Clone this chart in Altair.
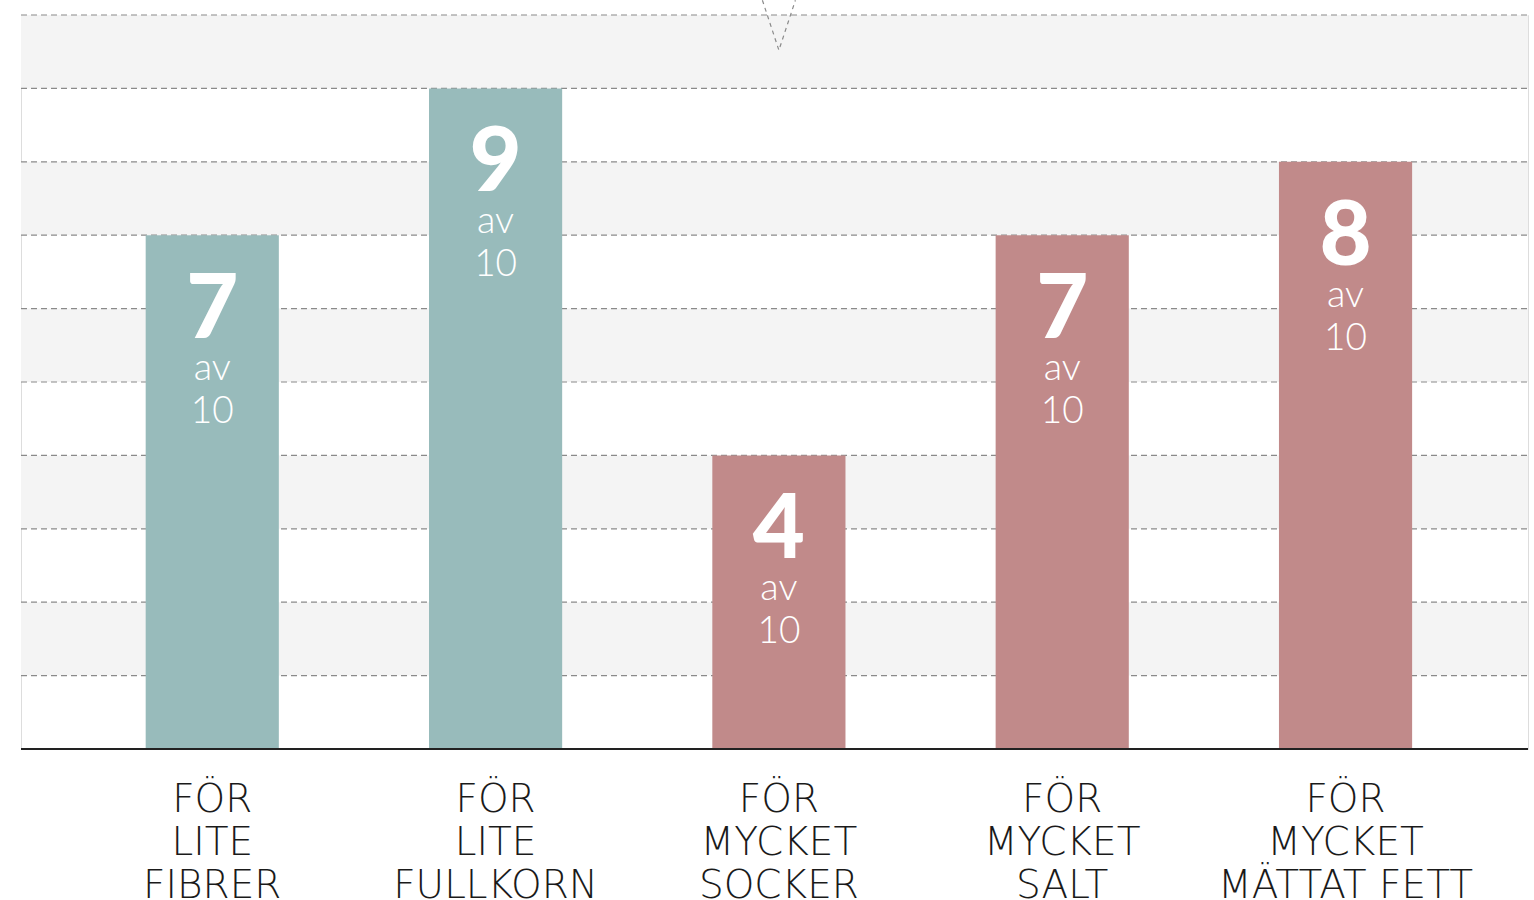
import altair as alt
import pandas as pd

# ---- data ----
categories = ["FÖR LITE FIBRER", "FÖR LITE FULLKORN", "FÖR MYCKET SOCKER",
              "FÖR MYCKET SALT", "FÖR MYCKET MÄTTAT FETT"]
values = [7, 9, 4, 7, 8]
totals = [10, 10, 10, 10, 10]
groups = ["för lite", "för lite", "för mycket", "för mycket", "för mycket"]
group_names = ["för lite", "för mycket"]
group_colors = ["#98bbbb", "#c18a8a"]
band_starts = [1, 3, 5, 7, 9]
grid_values = [1, 2, 3, 4, 5, 6, 7, 8, 9, 10]
marker_category = ["FÖR MYCKET SOCKER"]
marker_value = [9.52]

W, H = 1507, 734

df = pd.DataFrame({"cat": categories, "value": values, "total": totals, "group": groups})
df_bands = pd.DataFrame({"start": band_starts, "end": [b + 1 for b in band_starts]})
df_grid = pd.DataFrame({"g": grid_values})
df_marker = pd.DataFrame({"cat": marker_category, "value": marker_value})

xscale = alt.Scale(domain=categories, range=[49.6, 1466.2], paddingInner=0.53, paddingOuter=0.265)
yscale = alt.Scale(domain=[0, 10], nice=False)

label_expr = ("[split(datum.label, ' ')[0], split(datum.label, ' ')[1], "
              "join(slice(split(datum.label, ' '), 2), ' ')]")

bands = alt.Chart(df_bands).mark_rect(color="#f4f4f4").encode(
    x=alt.value(0), x2=alt.value(W),
    y=alt.Y("start:Q", scale=yscale, axis=None), y2="end:Q")

grid = alt.Chart(df_grid).mark_rule(color="#8a8a8a", strokeDash=[6, 4], strokeWidth=1.2).encode(
    x=alt.value(0), x2=alt.value(W),
    y=alt.Y("g:Q", scale=yscale, axis=None))

bars = alt.Chart(df).mark_bar().encode(
    x=alt.X("cat:N", scale=xscale, sort=categories,
            axis=alt.Axis(title=None, domain=False, ticks=False, labelAngle=0,
                          labelExpr=label_expr, labelFont="DejaVu Sans", labelFontWeight=200,
                          labelFontSize=39, labelColor="#1a1a1a", labelLineHeight=43,
                          labelBaseline="alphabetic", labelPadding=62, labelAlign="center",
                          labelLimit=0, labelOverlap=False)),
    y=alt.Y("value:Q", scale=yscale, axis=None),
    color=alt.Color("group:N", scale=alt.Scale(domain=group_names, range=group_colors), legend=None))

baseline = alt.Chart(df).mark_rule(color="#222222", strokeWidth=2).encode(
    x=alt.value(0), x2=alt.value(W), y=alt.datum(0))

num = alt.Chart(df).mark_text(font="Lato", fontWeight=900, fontSize=90, color="white",
                              baseline="alphabetic", dy=103).encode(
    x=alt.X("cat:N", scale=xscale, sort=categories),
    y=alt.Y("value:Q", scale=yscale), text="value:Q")

av = alt.Chart(df).mark_text(font="Lato", fontWeight=300, fontSize=38, color="white",
                             baseline="alphabetic", dy=145, text="av").encode(
    x=alt.X("cat:N", scale=xscale, sort=categories),
    y=alt.Y("value:Q", scale=yscale))

tot = alt.Chart(df).mark_text(font="Lato", fontWeight=300, fontSize=37, color="white",
                              baseline="alphabetic", dy=188).encode(
    x=alt.X("cat:N", scale=xscale, sort=categories),
    y=alt.Y("value:Q", scale=yscale), text="total:Q")

marker = alt.Chart(df_marker).mark_point(
    shape="M-0.33,-1L0,0L0.33,-1", size=10000, filled=False, fill="transparent",
    stroke="#8a8a8a", strokeDash=[4, 4], strokeWidth=1.2, opacity=1).encode(
    x=alt.X("cat:N", scale=xscale, sort=categories),
    y=alt.Y("value:Q", scale=yscale))

chart = alt.layer(bands, grid, bars, baseline, num, av, tot, marker).properties(
    width=W, height=H,
    autosize=alt.AutoSizeParams(type="none"),
    padding={"left": 21, "top": 15, "right": 6, "bottom": 151},
).configure_view(stroke=None).configure(background="white")

chart.save("out.html", embed_options={"renderer": "svg", "actions": False})
